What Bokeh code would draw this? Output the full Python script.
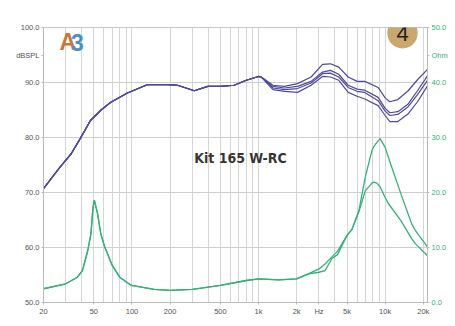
import numpy as np
from bokeh.plotting import figure
from bokeh.models import Range1d, LinearAxis, FixedTicker, Label
from bokeh.embed import file_html
from bokeh.resources import INLINE

# ---------------- data ----------------
spl_freq = [20, 27, 33, 39, 47, 57, 68, 92, 132, 191, 229, 311, 397, 503, 640, 800, 1000, 1050,
            1300, 1600, 2030, 2600, 3200, 3700, 4300, 5100, 6000, 6900, 8800, 10000, 10900,
            12600, 15200, 18000, 21600]
spl_low = [70.7, 74.6, 77.0, 79.8, 83.1, 85.0, 86.4, 88.1, 89.6, 89.6, 89.5, 88.5, 89.3, 89.3,
           89.5, 90.4, 91.1, 91.0]
spl_a = spl_low + [89.5, 89.3, 89.8, 91.0, 93.3, 93.4, 92.8, 91.0, 90.2, 90.2, 89.1, 87.2, 86.5,
                   86.9, 88.5, 90.5, 92.4]
spl_b = spl_low + [89.3, 89.0, 89.3, 90.2, 91.9, 92.2, 91.5, 89.5, 88.8, 88.6, 87.3, 85.3, 84.5,
                   84.7, 86.1, 88.5, 91.2]
spl_c = spl_low + [89.0, 88.7, 88.9, 89.9, 91.6, 91.7, 91.0, 89.1, 88.4, 88.2, 86.7, 84.8, 84.0,
                   84.2, 85.6, 87.8, 90.4]
spl_d = spl_low + [88.7, 88.4, 88.2, 89.5, 91.1, 91.0, 90.4, 88.2, 87.5, 87.0, 85.8, 84.0, 82.9,
                   82.9, 84.3, 86.5, 89.4]

z_freq = [20, 30, 37, 40.6, 44.8, 47.4, 49.2, 50.4, 53.4, 56.7, 60.9, 70, 80, 99, 150, 200, 300,
          500, 800, 1000, 1440, 2000, 2470,
          3000, 3350, 3800, 4200, 5000, 5470, 6200, 6960, 7860, 8100, 8600, 9130, 10000, 10600,
          13300, 16200, 17300, 21600]
z_low = [2.5, 3.4, 4.6, 5.8, 9.5, 12.5, 17.3, 18.6, 16.2, 12.5, 10.1, 6.7, 4.6, 3.1, 2.4, 2.2,
         2.4, 3.1, 4.0, 4.3, 4.1, 4.3, 5.2]
z_1 = z_low + [6.1, 7.0, 8.3, 9.3, 12.2, 13.3, 16.7, 22.8, 27.6, 28.3, 29.1, 29.8, 28.2, 26.4,
               19.8, 14.3, 13.1, 10.1]
z_2 = z_low + [5.5, 5.8, 8.0, 8.7, 12.2, 13.3, 16.5, 20.3, 21.7, 21.9, 21.7, 21.0, 19.1, 18.0,
               14.9, 11.6, 10.7, 8.5]

x_ticks = [20, 50, 100, 200, 500, 1000, 2000, 3000, 5000, 10000, 20000]
x_labels = ["20", "50", "100", "200", "500", "1k", "2k", "Hz", "5k", "10k", "20k"]
x_grid = [20, 30, 40, 50, 60, 70, 80, 90, 100, 200, 300, 400, 500, 600, 700, 800, 900,
          1000, 2000, 3000, 4000, 5000, 6000, 7000, 8000, 9000, 10000, 20000]
db_ticks = [50, 60, 70, 80, 90, 95, 100]
db_labels = ["50.0", "60.0", "70.0", "80.0", "90.0", "dBSPL", "100.0"]
ohm_ticks = [0, 10, 20, 30, 40, 45, 50]
ohm_labels = ["0.0", "10.0", "20.0", "30.0", "40.0", "Ohm", "50.0"]

title_text = "Kit 165 W-RC"

# ---------------- styles ----------------
SPL_COLOR = "#4f4a9e"
Z_COLOR = "#35b077"
GRID = "#d6d6d6"
AXIS = "#bcbcbc"
LABEL = "#555555"
FONT = "Liberation Sans"

W, H = 455, 326

p = figure(width=W, height=H, x_axis_type="log", x_range=Range1d(20, 21600),
           y_range=Range1d(50, 100), output_backend="svg", toolbar_location=None,
           min_border_left=43, min_border_right=28, min_border_top=27, min_border_bottom=24,
           background_fill_color="white", border_fill_color="white")
p.outline_line_color = "#c6c6c6"
p.extra_y_ranges = {"ohm": Range1d(0, 50)}

p.xgrid.ticker = FixedTicker(ticks=x_grid)
p.ygrid.ticker = FixedTicker(ticks=[50, 60, 70, 80, 90, 100])
for g in (p.xgrid, p.ygrid):
    g.grid_line_color = GRID
    g.grid_line_width = 1
p.ygrid.grid_line_color = "#cfcfcf"

xa = p.xaxis[0]
xa.ticker = FixedTicker(ticks=x_ticks)
xa.major_label_overrides = {t: l for t, l in zip(x_ticks, x_labels)}
ya = p.yaxis[0]
ya.ticker = FixedTicker(ticks=db_ticks)
ya.major_label_overrides = {t: l for t, l in zip(db_ticks, db_labels)}

ra = LinearAxis(y_range_name="ohm", ticker=FixedTicker(ticks=ohm_ticks))
ra.major_label_overrides = {t: l for t, l in zip(ohm_ticks, ohm_labels)}
p.add_layout(ra, "right")

for ax in (xa, ya, ra):
    ax.axis_line_color = AXIS
    ax.major_tick_line_color = AXIS
    ax.major_tick_out = 2
    ax.major_tick_in = 0
    ax.minor_tick_line_color = None
    ax.major_label_text_font = FONT
    ax.major_label_text_font_size = "7.5px"
    ax.major_label_text_color = LABEL
    ax.major_label_standoff = 2
ra.major_label_text_color = Z_COLOR

for s in (spl_a, spl_b, spl_c, spl_d):
    p.line(spl_freq, s, line_color=SPL_COLOR, line_width=1.2)
for z in (z_1, z_2):
    p.line(z_freq, z, line_color=Z_COLOR, line_width=1.3, y_range_name="ohm")

# title (frame-relative screen units)
p.add_layout(Label(x=197, y=145, x_units="screen", y_units="screen", text=title_text,
                   text_font="'DejaVu Sans Condensed', 'Liberation Sans', sans-serif",
                   text_font_style="bold", text_font_size="14px", text_color="#363636",
                   text_align="center", text_baseline="middle"))
# A3 logo
p.add_layout(Label(x=16, y=260.5, x_units="screen", y_units="screen", text="A",
                   text_font=FONT, text_font_style="bold", text_font_size="23px",
                   text_color="#c8773a", text_align="left", text_baseline="middle"))
p.add_layout(Label(x=27.5, y=260.5, x_units="screen", y_units="screen", text="3",
                   text_font=FONT, text_font_style="bold", text_font_size="23px",
                   text_color="#4a8fc6", text_align="left", text_baseline="middle"))
# badge
p.add_layout(Label(x=359, y=269.5, x_units="screen", y_units="screen", text="4",
                   text_font=FONT, text_font_size="22px", text_color="#222222",
                   text_align="center", text_baseline="middle",
                   background_fill_color="#c9a76d", border_radius=15, padding=(9, 8)))

open("out.html", "w").write(file_html(p, INLINE))
